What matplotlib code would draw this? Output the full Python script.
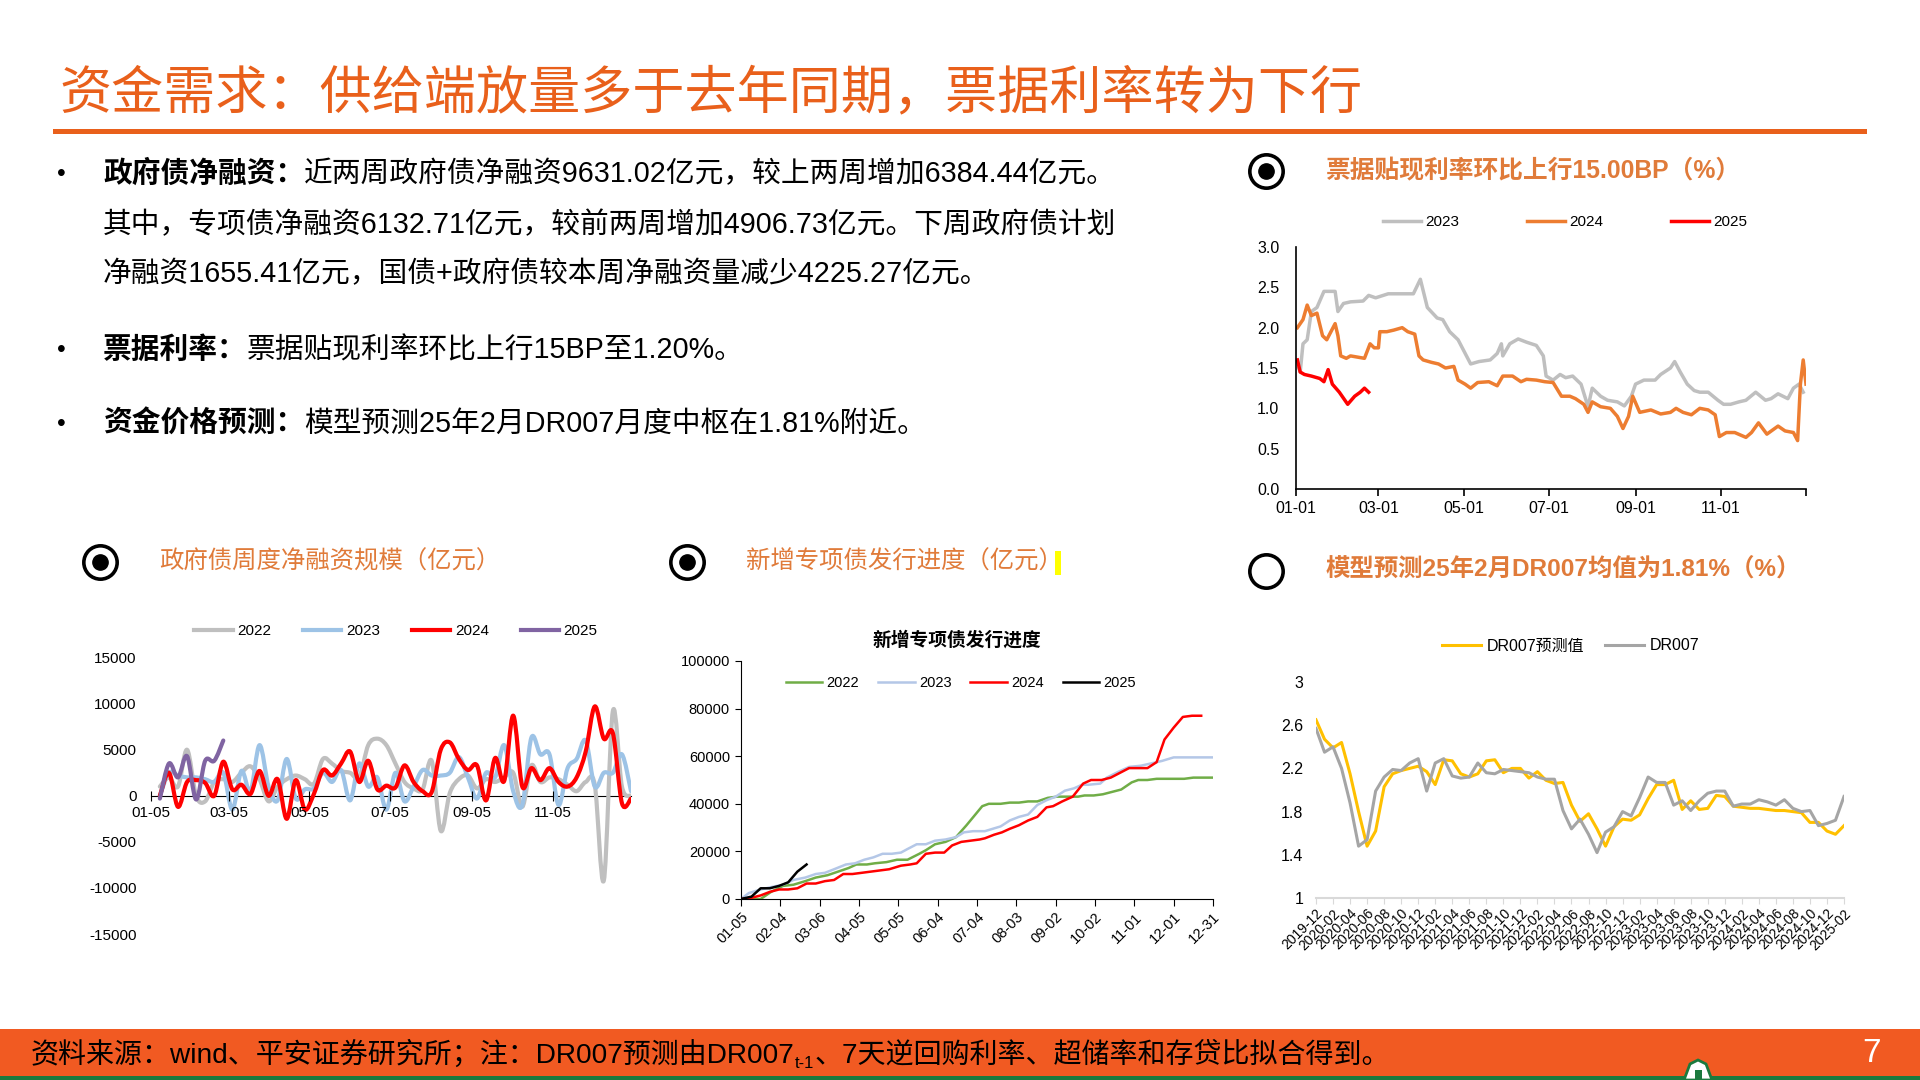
import numpy as np
import matplotlib
matplotlib.use('Agg')
import matplotlib.pyplot as plt
from matplotlib.lines import Line2D
from matplotlib.patches import Rectangle, Polygon, PathPatch
from matplotlib.path import Path

plt.rcParams['font.family'] = ['Liberation Sans', 'Noto Sans CJK SC', 'DejaVu Sans']
plt.rcParams['axes.unicode_minus'] = False

W, H = 1920, 1080
ORANGE = '#E9601B'
HEAD = '#E07B3A'

# ---- 票据贴现利率 (day of year, %) ----
bill_day_2023 = [2, 3, 5, 8, 11, 15, 20, 28, 30, 34, 39, 48, 52, 57, 66, 73, 84, 89, 94, 101,
                 105, 110, 116, 122, 125, 131, 139, 144, 147, 148, 153, 159, 165, 172, 177, 179, 184, 189, 193, 198,
                 204, 209, 212, 218, 223, 230, 235, 240, 243, 249, 257, 261, 268, 271, 275, 280, 285, 289, 295, 302,
                 306, 311, 317, 322, 329, 336, 340, 345, 352, 356, 360, 363]
bill_val_2023 = [1.5, 1.45, 1.8, 1.85, 2.2, 2.25, 2.45, 2.45, 2.2, 2.3, 2.32, 2.33, 2.4, 2.37, 2.42, 2.42, 2.42, 2.6, 2.25, 2.12,
                 2.1, 1.95, 1.85, 1.65, 1.55, 1.58, 1.6, 1.68, 1.8, 1.65, 1.8, 1.86, 1.82, 1.78, 1.65, 1.4, 1.35, 1.42, 1.38, 1.4,
                 1.3, 1.02, 1.25, 1.15, 1.1, 1.08, 1.03, 1.15, 1.3, 1.35, 1.35, 1.42, 1.5, 1.58, 1.45, 1.3, 1.22, 1.2, 1.2, 1.1,
                 1.05, 1.05, 1.08, 1.1, 1.2, 1.1, 1.12, 1.18, 1.12, 1.25, 1.3, 1.2]
bill_day_2024 = [1, 5, 8, 11, 15, 19, 22, 25, 28, 30, 32, 36, 39, 49, 53, 56, 59, 60, 65, 70,
                 76, 80, 85, 88, 91, 97, 102, 107, 113, 116, 121, 125, 130, 138, 144, 148, 155, 161, 165, 172,
                 178, 184, 190, 196, 200, 206, 209, 212, 218, 225, 230, 234, 238, 241, 246, 254, 261, 268, 272, 277,
                 283, 289, 295, 300, 303, 308, 314, 322, 326, 331, 337, 345, 350, 356, 359, 361, 363, 365]
bill_val_2024 = [2.0, 2.1, 2.28, 2.15, 2.18, 1.9, 1.85, 1.95, 2.05, 1.9, 1.65, 1.62, 1.65, 1.62, 1.8, 1.75, 1.75, 1.95, 1.95, 1.97,
                 2.0, 1.95, 1.92, 1.65, 1.6, 1.57, 1.55, 1.5, 1.52, 1.35, 1.3, 1.25, 1.32, 1.33, 1.28, 1.4, 1.4, 1.33, 1.36, 1.35,
                 1.33, 1.32, 1.15, 1.15, 1.12, 1.05, 0.95, 1.08, 1.02, 1.0, 0.9, 0.75, 0.9, 1.15, 0.95, 0.98, 0.93, 0.95, 1.0, 0.95,
                 0.92, 1.0, 0.98, 0.92, 0.65, 0.7, 0.7, 0.64, 0.7, 0.82, 0.68, 0.78, 0.72, 0.7, 0.6, 1.3, 1.6, 1.3]
bill_day_2025 = [1, 3, 6, 11, 17, 20, 23, 26, 31, 37, 42, 46, 49, 52]
bill_val_2025 = [1.6, 1.45, 1.42, 1.4, 1.37, 1.33, 1.48, 1.3, 1.2, 1.05, 1.15, 1.2, 1.25, 1.2]
bill_tick_days = [0, 59, 120, 181, 243, 304, 365]
bill_tick_labels = ['01-01', '03-01', '05-01', '07-01', '09-01', '11-01', '']

# ---- 政府债周度净融资 (亿元, weekly) ----
gov_2022 = [1000, 2000, 1000, 5000, 0, -600, 1500, 1800, 1500, 2500,
            3200, 1800, -600, 1000, 1800, 2200, 1800, 1300, 4000, 3500,
            2700, 2500, 2000, 5500, 6200, 5500, 3500, 1500, 800, 700,
            3800, -3800, 300, 1800, 2200, 800, 1800, 1500, 2000, 2500,
            -1200, 3300, 1500, 2000, 1800, 1200, 500, 1500, 1200, -9200,
            9200, 1000, 0]
gov_2023 = [0, 2500, 2200, 2000, 2000, 1800, 1500, 2500, -1500, 2700,
            500, 5500, 1000, -500, 4000, -300, 700, 800, 2500, 1500,
            2800, -500, 3500, 1000, 2000, -1500, 2500, -600, 1000, 2800,
            2200, 2200, 2500, 4200, 2000, -300, 2500, 2000, 5500, 500,
            -1000, 6300, 4500, 4500, -1000, 3000, 4000, 6000, 1000, 2500,
            2500, 4500, 500]
gov_2024 = [0, 2500, -1200, 1500, 1700, 1400, 0, 3700, 700, 1200,
            200, 2700, 0, 1800, -2500, 1700, -1500, 200, 2800, 2200,
            3500, 4800, 1500, 3800, 700, 1100, 900, 3300, 1500, 500,
            400, 5000, 5800, 4000, 2800, 3300, -500, 4100, 1600, 8700,
            1000, 3000, 1700, 3000, 1500, 1000, 2000, 4800, 9700, 6200,
            6800, -800, -300]
gov_2025 = [-300, 3500, 2000, 4300, -400, 3800, 3800, 6000]
gov_tick_days = [5, 64, 125, 186, 248, 309]
gov_tick_labels = ['01-05', '03-05', '05-05', '07-05', '09-05', '11-05']

# ---- 新增专项债发行进度 (days since 01-05, 亿元) ----
sp_day_2022 = [0, 15, 23, 32, 40, 49, 57, 66, 74, 82, 88, 96, 102, 111, 119, 127, 136, 141, 148, 156,
               164, 172, 184, 189, 198, 205, 212, 219, 226, 234, 241, 248, 257, 262, 269, 276, 283, 290, 298, 303,
               310, 317, 324, 331, 338, 345, 360]
sp_val_2022 = [0, 0, 3000, 5500, 6000, 7500, 9000, 10000, 11500, 13000, 14500, 14500, 15000, 15500, 16500, 16500, 19000, 20500, 23000, 24000,
               26000, 31000, 39000, 40000, 40000, 40500, 40500, 41000, 41000, 42500, 43000, 43000, 43000, 43500, 43500, 44000, 45000, 46000, 49000, 50000,
               50000, 50500, 50500, 50500, 50500, 51000, 51000]
sp_day_2023 = [0, 6, 15, 23, 32, 40, 49, 57, 64, 71, 80, 87, 94, 101, 108, 115, 122, 127, 134, 141,
               148, 156, 164, 170, 177, 186, 192, 198, 205, 212, 219, 226, 233, 240, 247, 254, 260, 265, 274, 279,
               288, 296, 305, 313, 321, 330, 338, 360]
sp_val_2023 = [0, 2500, 4000, 5000, 6000, 8000, 9000, 10500, 11000, 12500, 14500, 15000, 16500, 17500, 19000, 19000, 19500, 21000, 23000, 23000,
               24500, 25000, 26000, 28000, 28500, 28500, 29500, 30500, 33000, 34500, 35500, 39500, 41500, 43000, 45500, 46500, 48000, 48000, 48500, 51000,
               53500, 55500, 56000, 57000, 58000, 59500, 59500, 59500]
sp_day_2024 = [0, 8, 15, 22, 29, 36, 43, 50, 57, 64, 71, 78, 85, 92, 99, 106, 113, 122, 129, 134,
               141, 148, 155, 161, 168, 175, 182, 186, 193, 199, 205, 212, 219, 226, 233, 238, 245, 253, 261, 267,
               275, 282, 289, 296, 303, 310, 317, 323, 330, 337, 344, 351]
sp_val_2024 = [0, 500, 1500, 3000, 4000, 4000, 4500, 6500, 6500, 7500, 8000, 10500, 10500, 11000, 11500, 12000, 12500, 14000, 14500, 15000,
               19000, 19500, 19500, 22500, 24000, 24500, 25000, 25500, 27000, 28000, 29500, 31000, 33000, 34500, 38500, 39000, 41000, 43000, 48500, 50000,
               50000, 51000, 53000, 55000, 55000, 55000, 57500, 67000, 72000, 76500, 77000, 77000]
sp_day_2025 = [0, 8, 15, 22, 29, 36, 43, 50]
sp_val_2025 = [0, 1000, 4500, 4500, 5500, 7000, 11500, 14500]
sp_tick_labels = ['01-05', '02-04', '03-06', '04-05', '05-05', '06-04', '07-04',
                  '08-03', '09-02', '10-02', '11-01', '12-01', '12-31']

# ---- DR007 (monthly 2019-12 .. 2025-02) ----
dr_pred = [2.65, 2.47, 2.39, 2.44, 2.15, 1.8, 1.48, 1.62, 2.03, 2.15,
           2.18, 2.2, 2.22, 2.17, 2.05, 2.28, 2.27, 2.15, 2.12, 2.15,
           2.27, 2.28, 2.16, 2.2, 2.2, 2.11, 2.17, 2.09, 2.06, 2.07,
           1.86, 1.71, 1.78, 1.64, 1.48, 1.66, 1.73, 1.72, 1.77, 1.92,
           2.05, 2.05, 2.09, 1.82, 1.9, 1.82, 1.83, 1.95, 1.94, 1.85,
           1.84, 1.83, 1.83, 1.82, 1.81, 1.81, 1.8, 1.79, 1.7, 1.7,
           1.62, 1.59, 1.67]
dr_act = [2.57, 2.35, 2.4, 2.2, 1.88, 1.48, 1.54, 1.99, 2.12, 2.19,
          2.18, 2.25, 2.29, 1.99, 2.25, 2.29, 2.13, 2.11, 2.12, 2.25,
          2.16, 2.15, 2.19, 2.18, 2.17, 2.16, 2.12, 2.1, 2.1, 1.81,
          1.64, 1.73, 1.59, 1.42, 1.61, 1.66, 1.8, 1.76, 1.93, 2.12,
          2.07, 2.07, 1.86, 1.9, 1.81, 1.9, 1.97, 1.99, 1.99, 1.85,
          1.87, 1.87, 1.91, 1.89, 1.86, 1.91, 1.83, 1.8, 1.81, 1.67,
          1.69, 1.72, 1.94]
dr_tick_labels = ['2019-12', '2020-02', '2020-04', '2020-06', '2020-08', '2020-10', '2020-12',
                  '2021-02', '2021-04', '2021-06', '2021-08', '2021-10', '2021-12',
                  '2022-02', '2022-04', '2022-06', '2022-08', '2022-10', '2022-12',
                  '2023-02', '2023-04', '2023-06', '2023-08', '2023-10', '2023-12',
                  '2024-02', '2024-04', '2024-06', '2024-08', '2024-10', '2024-12', '2025-02']


def fx(x):
    return x / W


def fy(y):
    return 1 - y / H


def box(l, t, r, b):
    return [l / W, 1 - b / H, (r - l) / W, (b - t) / H]


def smooth_line(ax, x, y, color, lw, label):
    # Excel 风格的平滑折线：用三次贝塞尔曲线穿过每个数据点
    p = np.column_stack([x, y]).astype(float)
    verts = [p[0]]
    codes = [Path.MOVETO]
    n = len(p)
    for i in range(n - 1):
        p0 = p[i - 1] if i > 0 else p[i]
        p3 = p[i + 2] if i + 2 < n else p[i + 1]
        c1 = p[i] + (p[i + 1] - p0) / 6
        c2 = p[i + 1] - (p3 - p[i]) / 6
        verts += [c1, c2, p[i + 1]]
        codes += [Path.CURVE4] * 3
    ax.add_patch(PathPatch(Path(verts, codes), facecolor='none', edgecolor=color, lw=lw,
                           capstyle='round', joinstyle='round'))
    return Line2D([], [], color=color, lw=lw, label=label)


fig = plt.figure(figsize=(19.2, 10.8), dpi=100)
renderer = fig.canvas.get_renderer()


def runs(x, y, parts, size, color='black'):
    for s, w in parts:
        t = fig.text(fx(x), fy(y), s, fontsize=size, fontweight=w, color=color, va='center', ha='left')
        x += t.get_window_extent(renderer).width
    return x


def marker(x, y, filled):
    fig.add_artist(Line2D([fx(x)], [fy(y)], marker='o', markersize=24, mfc='white', mec='black',
                          mew=2.6, transform=fig.transFigure))
    if filled:
        fig.add_artist(Line2D([fx(x)], [fy(y)], marker='o', markersize=11, mfc='black', mec='black',
                              transform=fig.transFigure))


# 标题
fig.text(fx(59), fy(94), '资金需求：供给端放量多于去年同期，票据利率转为下行', fontsize=37.5,
         color=ORANGE, va='center', ha='left')
fig.add_artist(Rectangle((fx(53), fy(134)), fx(1867) - fx(53), 5 / H, color=ORANGE,
                         transform=fig.transFigure, lw=0))

# 正文
body = [
    (174, True, [('政府债净融资：', 'bold'), ('近两周政府债净融资9631.02亿元，较上两周增加6384.44亿元。', 'normal')]),
    (225, False, [('其中，专项债净融资6132.71亿元，较前两周增加4906.73亿元。下周政府债计划', 'normal')]),
    (274, False, [('净融资1655.41亿元，国债+政府债较本周净融资量减少4225.27亿元。', 'normal')]),
    (350, True, [('票据利率：', 'bold'), ('票据贴现利率环比上行15BP至1.20%。', 'normal')]),
    (424, True, [('资金价格预测：', 'bold'), ('模型预测25年2月DR007月度中枢在1.81%附近。', 'normal')]),
]
for y, bullet, parts in body:
    if bullet:
        fig.text(fx(61), fy(y), '•', fontsize=18, va='center', ha='center')
    runs(103, y, parts, 20.7)

# 小标题
marker(1266, 171, True)
fig.text(fx(1326), fy(171), '票据贴现利率环比上行15.00BP（%）', fontsize=17.8, fontweight='bold',
         color=HEAD, va='center')
marker(100, 562, True)
fig.text(fx(159), fy(562), '政府债周度净融资规模（亿元）', fontsize=17.6, color=HEAD, va='center')
marker(687, 562, True)
fig.text(fx(746), fy(562), '新增专项债发行进度（亿元）', fontsize=17.6, color=HEAD, va='center')
fig.add_artist(Rectangle((fx(1055), fy(575)), 6 / W, 24 / H, color='#FFFF00', lw=0,
                         transform=fig.transFigure))
marker(1266, 571, False)
fig.text(fx(1326), fy(569), '模型预测25年2月DR007均值为1.81%（%）', fontsize=17.6, fontweight='bold',
         color=HEAD, va='center')

# ---- 图1 票据贴现利率 ----
ax1 = fig.add_axes(box(1296, 247, 1806, 489))
ax1.plot(bill_day_2023, bill_val_2023, color='#BFBFBF', lw=2.5, label='2023')
ax1.plot(bill_day_2024, bill_val_2024, color='#ED7D31', lw=2.5, label='2024')
ax1.plot(bill_day_2025, bill_val_2025, color='#FF0000', lw=2.5, label='2025')
ax1.set_xlim(0, 365)
ax1.set_ylim(0, 3)
ax1.set_yticks(np.arange(0, 3.01, 0.5))
ax1.set_yticklabels(['%.1f' % v for v in np.arange(0, 3.01, 0.5)])
ax1.set_xticks(bill_tick_days)
ax1.set_xticklabels(bill_tick_labels)
for s in ['top', 'right']:
    ax1.spines[s].set_visible(False)
ax1.spines['left'].set_linewidth(1.2)
ax1.spines['bottom'].set_linewidth(1.2)
ax1.tick_params(axis='y', length=0, pad=12, labelsize=11.5)
ax1.tick_params(axis='x', length=5, width=1.2, pad=4, labelsize=11.5)
ax1.legend(loc='center', bbox_to_anchor=(fx(1565), fy(222)), bbox_transform=fig.transFigure, ncol=3,
           frameon=False, fontsize=11, handlelength=2.5, handletextpad=0.3, columnspacing=4.4)

# ---- 图2 政府债周度净融资 ----
week_days = np.linspace(12, 368, len(gov_2024))
ax2 = fig.add_axes(box(150.6, 657.6, 631, 934))
h2 = [smooth_line(ax2, week_days, gov_2022, '#BFBFBF', 3, '2022'),
      smooth_line(ax2, week_days, gov_2023, '#9DC3E6', 3, '2023'),
      smooth_line(ax2, week_days, gov_2024, '#FF0000', 3, '2024'),
      smooth_line(ax2, week_days[:len(gov_2025)], gov_2025, '#8064A2', 3, '2025')]
ax2.set_xlim(5, 368)
ax2.set_ylim(-15000, 15000)
ax2.set_yticks(np.arange(-15000, 15001, 5000))
ax2.set_xticks(gov_tick_days)
ax2.set_xticklabels(gov_tick_labels)
for s in ['top', 'right', 'left']:
    ax2.spines[s].set_visible(False)
ax2.spines['bottom'].set_position(('data', 0))
ax2.spines['bottom'].set_zorder(0.5)
ax2.tick_params(axis='y', length=0, pad=10, labelsize=11)
ax2.tick_params(axis='x', direction='inout', length=7, pad=4, labelsize=11)
ax2.legend(handles=h2, loc='center', bbox_to_anchor=(fx(396), fy(631)), bbox_transform=fig.transFigure,
           ncol=4, frameon=False, fontsize=11, handlelength=2.5, handletextpad=0.3, columnspacing=2.1)

# ---- 图3 新增专项债发行进度 ----
ax3 = fig.add_axes(box(741, 661, 1213, 899))
ax3.plot(sp_day_2022, sp_val_2022, color='#70AD47', lw=1.8, label='2022')
ax3.plot(sp_day_2023, sp_val_2023, color='#B4C7E7', lw=1.8, label='2023')
ax3.plot(sp_day_2024, sp_val_2024, color='#FF0000', lw=1.8, label='2024')
ax3.plot(sp_day_2025, sp_val_2025, color='#000000', lw=1.8, label='2025')
ax3.set_xlim(0, 360)
ax3.set_ylim(0, 100000)
ax3.set_yticks(np.arange(0, 100001, 20000))
ax3.set_xticks(np.arange(0, 361, 30))
ax3.set_xticklabels(sp_tick_labels, rotation=45, ha='right', va='top', rotation_mode='anchor')
for s in ['top', 'right']:
    ax3.spines[s].set_visible(False)
ax3.tick_params(axis='y', length=4, pad=4, labelsize=10.5)
ax3.tick_params(axis='x', length=5, pad=3, labelsize=10.5)
fig.text(fx(957), fy(640), '新增专项债发行进度', fontsize=13.5, fontweight='bold', ha='center', va='center')
ax3.legend(loc='center', bbox_to_anchor=(fx(961), fy(683)), bbox_transform=fig.transFigure, ncol=4,
           frameon=False, fontsize=10.5, handlelength=2.5, handletextpad=0.3, columnspacing=1.3)

# ---- 图4 DR007 ----
months = np.arange(len(dr_act))
ax4 = fig.add_axes(box(1316, 682, 1844, 898))
ax4.plot(months, dr_pred, color='#FFC000', lw=2.2, label='DR007预测值')
ax4.plot(months, dr_act, color='#A5A5A5', lw=2.2, label='DR007')
ax4.set_xlim(0, len(dr_act) - 1)
ax4.set_ylim(1, 3)
ax4.set_yticks([1, 1.4, 1.8, 2.2, 2.6, 3])
ax4.set_yticklabels(['1', '1.4', '1.8', '2.2', '2.6', '3'])
ax4.set_xticks(months[::2])
ax4.set_xticklabels(dr_tick_labels, rotation=45, ha='right', va='top', rotation_mode='anchor')
for s in ['top', 'right', 'left']:
    ax4.spines[s].set_visible(False)
ax4.spines['bottom'].set_color('#D9D9D9')
ax4.spines['bottom'].set_linewidth(1.5)
ax4.tick_params(axis='y', length=0, pad=9, labelsize=11.5)
ax4.tick_params(axis='x', length=4, color='#D9D9D9', pad=2, labelsize=10)
ax4.legend(loc='center', bbox_to_anchor=(fx(1571), fy(646)), bbox_transform=fig.transFigure, ncol=2,
           frameon=False, fontsize=11.5, handlelength=2.4, handletextpad=0.4, columnspacing=1.3)

# 页脚
fig.add_artist(Rectangle((0, 0), 1, 51 / H, color='#F15A22', lw=0, transform=fig.transFigure))
fig.add_artist(Rectangle((0, 0), 1, 4 / H, color='#1B7A3E', lw=0, transform=fig.transFigure))
fig.add_artist(Polygon([(fx(1684), fy(1080)), (fx(1690), fy(1064)), (fx(1698), fy(1060)),
                        (fx(1706), fy(1064)), (fx(1712), fy(1080))], closed=True,
                       facecolor='white', edgecolor='#1B7A3E', lw=2, transform=fig.transFigure))
fig.add_artist(Rectangle((fx(1695), fy(1080)), 7 / W, 10 / H, color='#1B7A3E', lw=0,
                         transform=fig.transFigure))
xe = runs(31, 1055, [('资料来源：wind、平安证券研究所；注：DR007预测由DR007', 'normal')], 20.2)
t = fig.text(fx(xe), fy(1064), 't-1', fontsize=12, va='center', ha='left')
xe += t.get_window_extent(renderer).width
runs(xe, 1055, [('、7天逆回购利率、超储率和存贷比拟合得到。', 'normal')], 20.2)
fig.text(fx(1871), fy(1054), '7', fontsize=24, color='white', ha='center', va='center')

fig.savefig('out.png', dpi=100)
